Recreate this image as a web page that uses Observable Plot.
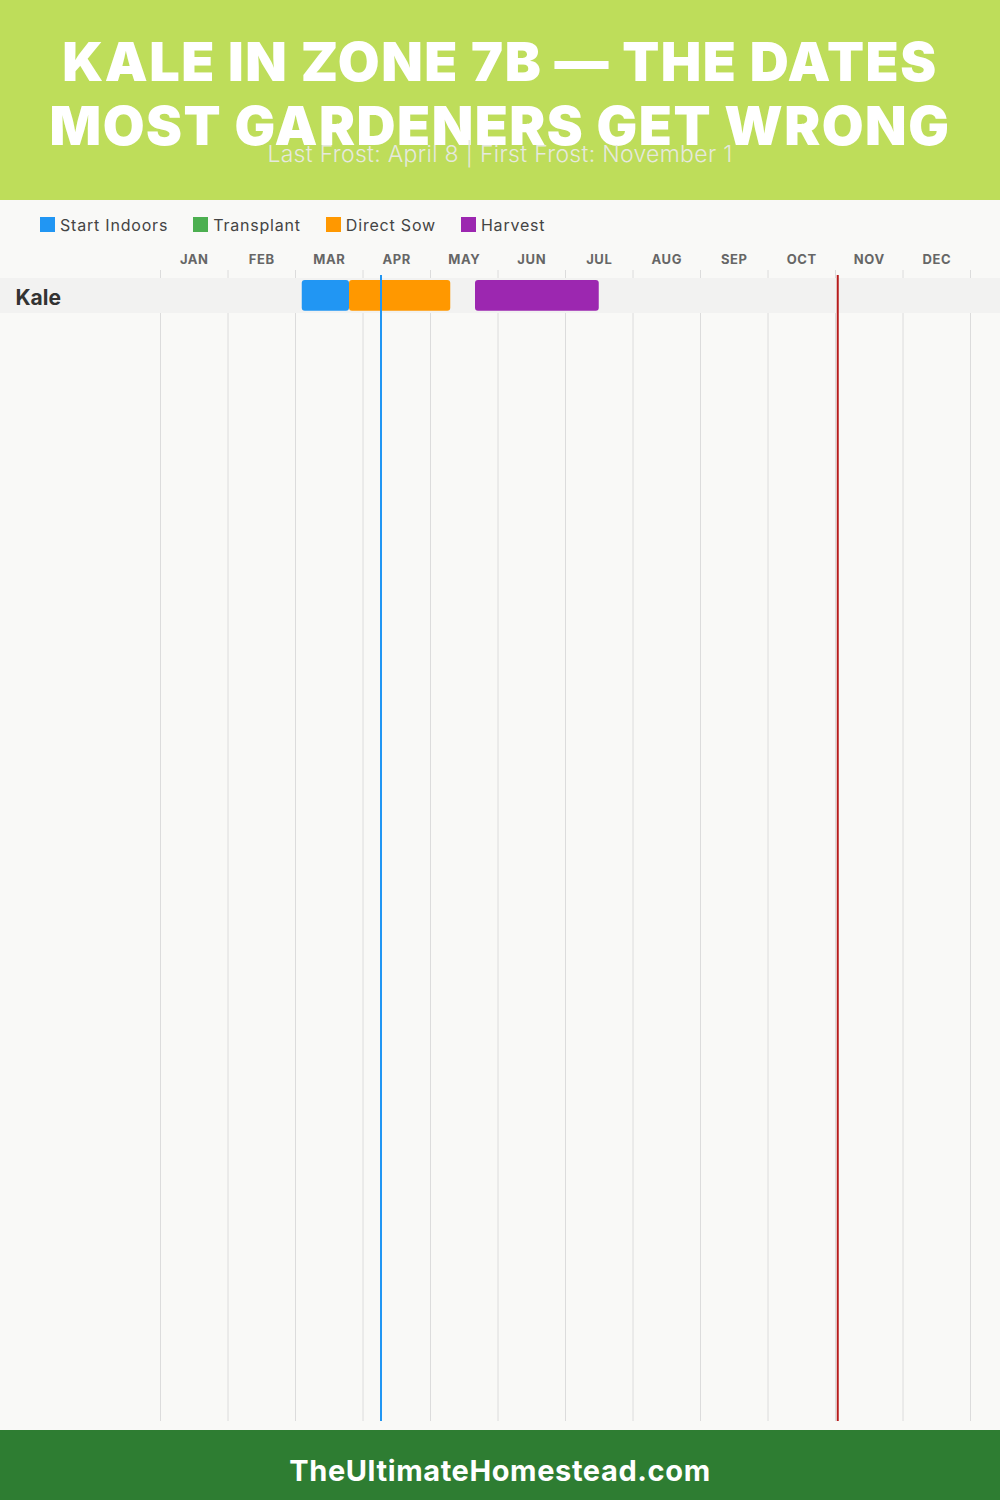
<!DOCTYPE html>
<html><head><meta charset="utf-8">
<script src="https://cdn.jsdelivr.net/npm/d3@7"></script>
<script src="https://cdn.jsdelivr.net/npm/@observablehq/plot@0.6"></script>
<style>
body{margin:0;background:#F9F9F7;}
#page{width:1000px;height:1500px;background:#F9F9F7;font-family:Inter,"Open Sans",sans-serif;position:relative;overflow:hidden;}
#header{height:200px;background:#BEDD5A;text-align:center;position:relative;}
#title{position:absolute;left:0;right:0;top:30px;color:#fff;font-weight:900;font-size:54px;line-height:64px;letter-spacing:1.5px;}
#subtitle{position:absolute;left:0;right:0;top:140px;color:#e6e9de;font-size:23px;font-weight:300;line-height:28px;letter-spacing:0.3px;}
#legend{height:46px;display:flex;align-items:center;padding-left:40px;padding-top:3px;box-sizing:border-box;font-size:16px;letter-spacing:0.8px;color:#444;}
.li{display:flex;align-items:center;margin-right:25px;}
.sw{width:15px;height:15px;margin-right:5px;display:inline-block;}
#chart{height:1184px;}
#chart svg{display:block;}
#footer{height:70px;background:#2E7D32;color:#fff;font-weight:700;font-size:29px;letter-spacing:0.6px;text-align:center;line-height:82px;}
</style>
</head><body>
<div id="page">
  <div id="header">
    <div id="title">KALE IN ZONE 7B — THE DATES<br>MOST GARDENERS GET WRONG</div>
    <div id="subtitle">Last Frost: April 8 | First Frost: November 1</div>
  </div>
  <div id="legend"></div>
  <div id="chart"></div>
  <div id="footer">TheUltimateHomestead.com</div>
</div>
<script>
// ---- data ----
const months = ["JAN","FEB","MAR","APR","MAY","JUN","JUL","AUG","SEP","OCT","NOV","DEC"];
const crops = ["Kale"];
const phases = ["Start Indoors","Transplant","Direct Sow","Harvest"];
const phaseColors = ["#2196F3","#4CAF50","#FF9800","#9C27B0"];
const taskCrop = ["Kale","Kale","Kale"];
const taskPhase = ["Start Indoors","Direct Sow","Harvest"];
const taskStart = ["03-03","03-24","05-20"];
const taskEnd = ["03-24","05-09","07-15"];
const lastFrost = "04-08";
const firstFrost = "11-01";

// month-day -> fractional month position
const pos = s => { const [m, d] = s.split("-").map(Number); return (m - 1) + d / 30; };

const tasks = taskCrop.map((c, i) => ({crop: c, phase: taskPhase[i], start: pos(taskStart[i]), end: pos(taskEnd[i])}));
const boundaries = months.map((m, i) => i).concat([months.length]);

// legend
const lg = document.getElementById("legend");
phases.forEach((p, i) => {
  const el = document.createElement("div");
  el.className = "li";
  el.innerHTML = `<span class="sw" style="background:${phaseColors[i]}"></span><span>${p}</span>`;
  lg.appendChild(el);
});

const chart = Plot.plot({
  width: 1000,
  height: 1184,
  marginLeft: 160,
  marginRight: 30,
  marginTop: 24,
  marginBottom: 9,
  style: {background: "transparent", fontFamily: "Inter, 'Open Sans', sans-serif"},
  x: {domain: [0, 12], axis: null},
  y: {type: "band", domain: crops, range: [32, 67], padding: 0, axis: null},
  color: {domain: phases, range: phaseColors},
  marks: [
    Plot.ruleX(boundaries, {x: d => d, stroke: "#dcdcdc", strokeWidth: 1}),
    Plot.barX(crops, {x1: () => 0, x2: () => 12, y: d => d, fill: "#F2F2F1", insetLeft: -160, insetRight: -30}),
    Plot.barX(tasks, {x1: "start", x2: "end", y: "crop", fill: "phase", rx: 3, insetTop: 2, insetBottom: 2.3}),
    Plot.ruleX([pos(lastFrost)], {x: d => d, stroke: "#2196F3", strokeWidth: 2, insetTop: 5}),
    Plot.ruleX([pos(firstFrost)], {x: d => d, stroke: "#B71C1C", strokeWidth: 2, insetTop: 5}),
    Plot.text(months, {x: (d, i) => i + 0.5, text: d => d, frameAnchor: "top", dy: -11, lineAnchor: "middle", fontSize: 13, fontWeight: 700, fill: "#666"}),
    Plot.text(crops, {y: d => d, text: d => d, frameAnchor: "left", textAnchor: "start", dx: -145, dy: 2, fontSize: 21, fontWeight: 700, fill: "#333"})
  ]
});
chart.querySelectorAll("text").forEach(t => { if (/^[A-Z]{3}$/.test(t.textContent)) t.setAttribute("letter-spacing", "0.6"); });
document.getElementById("chart").appendChild(chart);
</script>
</body></html>
